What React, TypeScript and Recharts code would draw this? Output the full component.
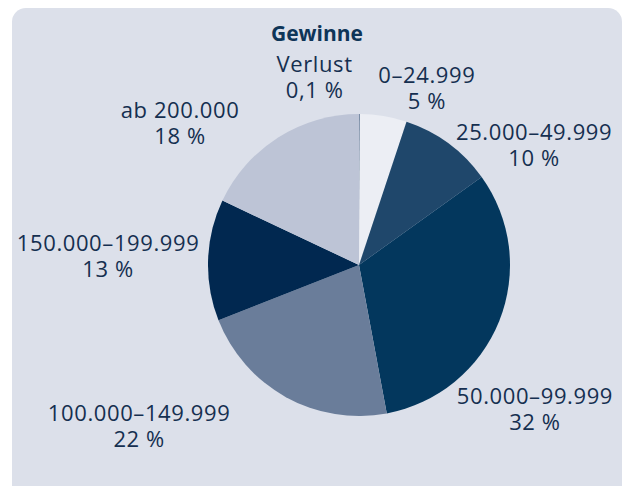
import { PieChart, Pie, Cell } from 'recharts'

const categories = ['Verlust', '0–24.999', '25.000–49.999', '50.000–99.999', '100.000–149.999', '150.000–199.999', 'ab 200.000']
const shares = [0.1, 5, 10, 32, 22, 13, 18]
const shareLabels = ['0,1 %', '5 %', '10 %', '32 %', '22 %', '13 %', '18 %']

const colors = ['#6d819d', '#eceef4', '#1f476b', '#03375d', '#6a7d9a', '#012850', '#bdc4d6']
// label nudges from the default polar anchor (outerRadius + 45)
const labelNudge: [number, number][] = [[-45, 16], [36, 24], [59, 46], [-6, 79], [-125, -3], [-55, 5], [-74, 32]]

const data = categories.map((name, i) => ({ name, value: shares[i], pct: shareLabels[i] }))

const TEXT = '#152f50'
const FONT = '"Open Sans", sans-serif'
const RAD = Math.PI / 180

function renderLabel(props: any) {
  const { cx, cy, midAngle, outerRadius, index } = props
  const r = outerRadius + 45
  const [dx, dy] = labelNudge[index]
  const x = cx + r * Math.cos(-midAngle * RAD) + dx
  const y = cy + r * Math.sin(-midAngle * RAD) + dy
  return (
    <text x={x} y={y} textAnchor="middle" fill={TEXT} fontFamily={FONT} fontSize={22} letterSpacing={0.6}>
      <tspan x={x} y={y - 13}>{categories[index]}</tspan>
      <tspan x={x} y={y + 13}>{shareLabels[index]}</tspan>
    </text>
  )
}

export default function App() {
  return (
    <div style={{ position: 'absolute', left: 0, top: 0, width: 623, height: 486, overflow: 'hidden', background: '#fff' }}>
      <div style={{ position: 'absolute', left: 12, top: 8, width: 610, height: 500, borderRadius: 14, background: '#dce0ea' }} />
      <div
        style={{
          position: 'absolute', left: 217, top: 23, width: 200, textAlign: 'center',
          fontFamily: FONT, fontWeight: 700, fontSize: 21, lineHeight: '21px', color: '#0e3558',
        }}
      >
        Gewinne
      </div>
      <div style={{ position: 'absolute', left: 0, top: 0 }}>
        <PieChart width={623} height={486} margin={{ top: 0, right: 0, bottom: 0, left: 0 }}>
          <Pie
            data={data}
            dataKey="value"
            nameKey="name"
            cx={359}
            cy={265}
            outerRadius={151}
            startAngle={90}
            endAngle={-270}
            stroke="none"
            labelLine={false}
            label={renderLabel}
            isAnimationActive={false}
          >
            {data.map((d, i) => (
              <Cell key={d.name} fill={colors[i]} />
            ))}
          </Pie>
        </PieChart>
      </div>
    </div>
  )
}
